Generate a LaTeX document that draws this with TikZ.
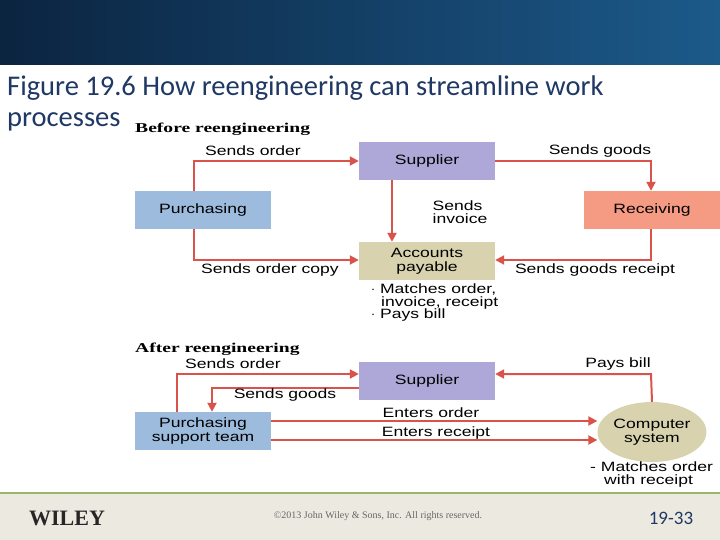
\documentclass[tikz,border=0pt]{standalone}
\usepackage{fontspec}
\setmainfont{Liberation Sans}
\newfontfamily\diag[FakeStretch=1.3]{Liberation Sans}
\newfontfamily\titlefont{Carlito}
\newfontfamily\serifb{Liberation Serif}
\newfontfamily\serifw[FakeStretch=1.45]{Liberation Serif}
\usetikzlibrary{arrows.meta,shapes.geometric}
\definecolor{arr}{HTML}{D9534B}
\definecolor{supc}{HTML}{ADA8D8}
\definecolor{purc}{HTML}{9DBBDD}
\definecolor{recc}{HTML}{F59B84}
\definecolor{apc}{HTML}{D8D3AE}
\definecolor{ttl}{HTML}{1F3864}
\definecolor{footc}{HTML}{ECEAE0}
\definecolor{linec}{HTML}{9BB56B}
\definecolor{banl}{HTML}{0B2440}
\definecolor{banr}{HTML}{1C5A8A}
\tikzset{
 box/.style={minimum width=136pt,minimum height=38pt,inner sep=0pt,align=center,font=\diag\fontsize{13.5}{14}\selectfont},
 lbl/.style={font=\diag\fontsize{13.5}{13.5}\selectfont,inner sep=0pt,align=left},
 hdr/.style={font=\serifw\bfseries\fontsize{13.5}{14}\selectfont,inner sep=0pt},
 flow/.style={draw=arr,line width=2pt,-{Triangle[length=9pt,width=9pt]}}
}
\begin{document}
\begin{tikzpicture}[x=1pt,y=-1pt]
\useasboundingbox (0,0) rectangle (720,540);
\fill[white] (0,0) rectangle (720,540);
\shade[left color=banl,right color=banr] (0,0) rectangle (720,65);
\fill[footc] (0,493) rectangle (720,540);
\draw[line width=2pt,color=linec] (0,493) -- (720,493);
\node[anchor=west,text=ttl,font=\titlefont\fontsize{28.5}{30}\selectfont,inner sep=0pt] (t1) at (7,88) {Figure 19.6 How reengineering can streamline work};
\node[anchor=west,text=ttl,font=\titlefont\fontsize{28.5}{30}\selectfont,inner sep=0pt] (t2) at (7,122) {processes};
% before
\node[hdr,anchor=west] (hb) at (135,129) {Before reengineering};
\node[box,fill=supc] (s1) at (427,161) {Supplier};
\node[box,fill=purc] (p1) at (203,210) {Purchasing};
\node[box,fill=recc,minimum width=136pt] (r1) at (652,210) {Receiving};
\node[box,fill=apc] (a1) at (427,261) {Accounts\\payable};
\coordinate (c1) at (194,161);
\coordinate (c2) at (651,161);
\coordinate (c3) at (194,260);
\coordinate (c4) at (651,260);
\coordinate (c5) at (392,0);
\draw[flow] (p1.north -| c1) -- (c1) -- (s1.west);
\draw[flow] (s1.east) -- (c2) -- (r1.north -| c2);
\draw[flow] (s1.south -| c5) -- (a1.north -| c5);
\draw[flow] (p1.south -| c3) -- (c3) -- (c3 -| a1.west);
\draw[flow] (r1.south -| c4) -- (c4) -- (c4 -| a1.east);
\node[lbl] (l1) at (253,151) {Sends order};
\node[lbl] (l2) at (600,151) {Sends goods};
\node[lbl] (l3) at (460,212) {Sends\\invoice};
\node[lbl] (l4) at (270,270) {Sends order copy};
\node[lbl] (l5) at (595,270) {Sends goods receipt};
\node[lbl,anchor=north west] (l6) at (371,284) {$\cdot$ Matches order,\\[-1pt]\hspace*{10pt}invoice, receipt\\[-1pt]$\cdot$ Pays bill};
% after
\node[hdr,anchor=west] (ha) at (135,349) {After reengineering};
\node[box,fill=supc] (s2) at (427,381) {Supplier};
\node[box,fill=purc] (p2) at (203,431) {Purchasing\\support team};
\node[ellipse,fill=apc,minimum width=84pt,minimum height=60pt,inner sep=0pt,align=center,font=\diag\fontsize{13.5}{14}\selectfont] (cs) at (652,432) {Computer\\system};
\coordinate (d1) at (177,374);
\coordinate (d2) at (212,388);
\coordinate (d3) at (651,374);
\coordinate (e1) at (0,421);
\coordinate (e2) at (0,440);
\draw[flow] (p2.north -| d1) -- (d1) -- (d1 -| s2.west);
\draw[flow] (d2 -| s2.west) -- (d2) -- (p2.north -| d2);
\draw[flow] (p2.east |- e1) -- (cs.west |- e1);
\draw[flow] (p2.east |- e2) -- (cs.west |- e2);
\draw[flow] (cs.north) -- (d3) -- (d3 -| s2.east);
\node[lbl] (m1) at (233,364) {Sends order};
\node[lbl] (m2) at (285,395) {Sends goods};
\node[lbl] (m3) at (431,413) {Enters order};
\node[lbl] (m4) at (436,433) {Enters receipt};
\node[lbl] (m5) at (618,364) {Pays bill};
\node[lbl,anchor=north west] (m6) at (590,462) {- Matches order\\[-1pt]\hspace*{14pt}with receipt};
% footer
\node[font=\serifb\bfseries\fontsize{22}{22}\selectfont,text=black!85,inner sep=0pt] (w) at (67,518) {WILEY};
\node[font=\serifb\fontsize{10}{10}\selectfont,text=black!60,inner sep=0pt] (cp) at (378,516) {©2013 John Wiley \& Sons, Inc. All rights reserved.};
\node[font=\titlefont\fontsize{19}{19}\selectfont,text=ttl,inner sep=0pt] (pg) at (671,518) {19-33};
\end{tikzpicture}
\end{document}
